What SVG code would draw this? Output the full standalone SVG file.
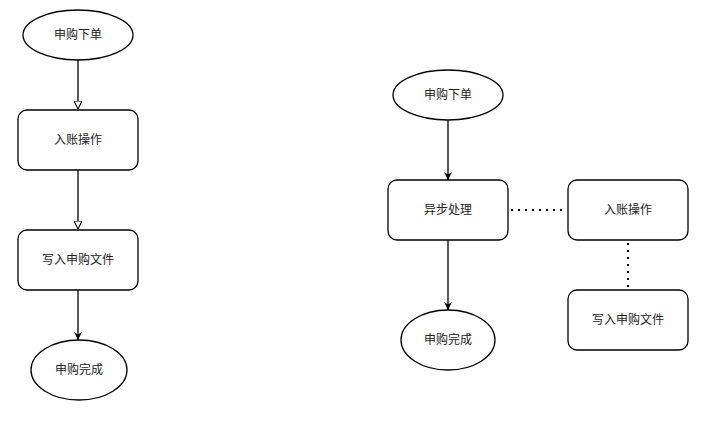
<svg xmlns="http://www.w3.org/2000/svg" width="718" height="421" viewBox="0 0 718 421">
<style>
.s{fill:#fff;stroke:#000;stroke-width:1.3}
.t{font-family:"Liberation Sans","Noto Sans CJK SC",sans-serif;font-size:12px;fill:#222;text-anchor:middle;dominant-baseline:central}
.l{stroke:#000;stroke-width:1.3;fill:none}
.d{stroke:#000;stroke-width:2;fill:none;stroke-dasharray:2 5}
</style>
<defs>
<marker id="h" viewBox="0 0 10 10" refX="10" refY="5" markerWidth="8" markerHeight="8" markerUnits="userSpaceOnUse" orient="auto"><path d="M0,0L10,5L0,10Z" fill="#fff" stroke="#000" stroke-width="1.3"/></marker>
<marker id="f" viewBox="0 0 10 10" refX="10" refY="5" markerWidth="8" markerHeight="8" markerUnits="userSpaceOnUse" orient="auto"><path d="M0,0L10,5L0,10L3,5Z" fill="#000"/></marker>
</defs>
<rect width="718" height="421" fill="#fff"/>
<g id="connectors">
<path class="l" d="M78,60V109" marker-end="url(#h)"/>
<path class="l" d="M78,170V229" marker-end="url(#h)"/>
<path class="l" d="M78,290V340" marker-end="url(#f)"/>
<path class="l" d="M448,120V180" marker-end="url(#f)"/>
<path class="l" d="M448,240V310" marker-end="url(#f)"/>
<path class="d" d="M511,210H566"/>
<path class="d" d="M628,243V289"/>
</g>
<g id="n1"><ellipse class="s" cx="78" cy="35" rx="55" ry="25"/><text class="t" x="78" y="35">申购下单</text></g>
<g id="n2"><rect class="s" x="18" y="110" width="120" height="60" rx="9"/><text class="t" x="78" y="140">入账操作</text></g>
<g id="n3"><rect class="s" x="18" y="230" width="120" height="60" rx="9"/><text class="t" x="78" y="260">写入申购文件</text></g>
<g id="n4"><ellipse class="s" cx="79" cy="370" rx="48" ry="30"/><text class="t" x="79" y="370">申购完成</text></g>
<g id="n5"><ellipse class="s" cx="448" cy="95" rx="55" ry="25"/><text class="t" x="448" y="95">申购下单</text></g>
<g id="n6"><rect class="s" x="388" y="180" width="120" height="60" rx="9"/><text class="t" x="448" y="210">异步处理</text></g>
<g id="n7"><rect class="s" x="568" y="180" width="120" height="60" rx="9"/><text class="t" x="628" y="210">入账操作</text></g>
<g id="n8"><rect class="s" x="568" y="290" width="120" height="60" rx="9"/><text class="t" x="628" y="320">写入申购文件</text></g>
<g id="n9"><ellipse class="s" cx="448" cy="340" rx="47" ry="30"/><text class="t" x="448" y="340">申购完成</text></g>
</svg>
